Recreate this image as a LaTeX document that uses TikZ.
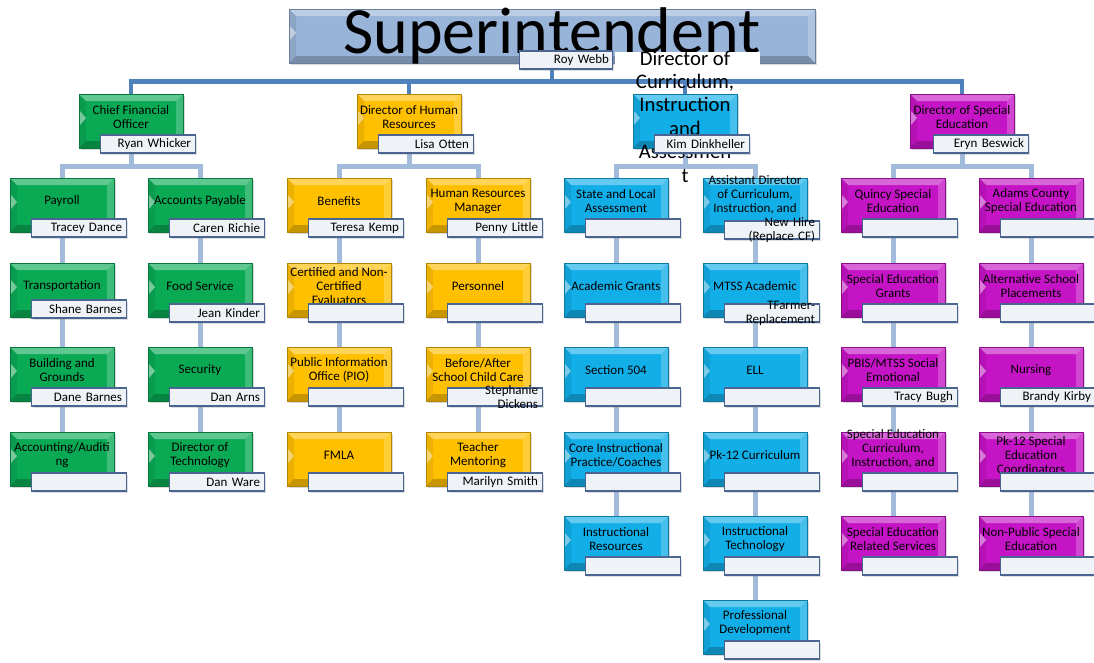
\documentclass[tikz,border=0pt]{standalone}
\usepackage{fontspec}
\setmainfont{Carlito}
\usetikzlibrary{shadows,backgrounds}

\definecolor{finGreen}{HTML}{0AAA55}
\definecolor{hrGold}{HTML}{FFC000}
\definecolor{curCyan}{HTML}{12AEE8}
\definecolor{spedPink}{HTML}{C514C5}
\definecolor{supBlue}{HTML}{98B4D8}
\definecolor{busBlue}{HTML}{4F81BD}
\definecolor{stemBlue}{HTML}{A3BBDB}
\definecolor{tagEdge}{HTML}{4A6591}
\definecolor{tagFill}{HTML}{EFF2F6}

\begin{document}
\begin{tikzpicture}[x=1pt,y=-1pt,
  bevel/.style={path picture={
    \fill[white,opacity=.35] (path picture bounding box.north west) -- (path picture bounding box.north east)
      -- ([shift={(-7pt,-7pt)}]path picture bounding box.north east) -- ([shift={(7pt,-7pt)}]path picture bounding box.north west) -- cycle;
    \fill[white,opacity=.22] (path picture bounding box.north east) -- ([shift={(-7pt,-7pt)}]path picture bounding box.north east)
      -- ([shift={(-7pt,7pt)}]path picture bounding box.south east) -- (path picture bounding box.south east) -- cycle;
    \fill[black,opacity=.22] (path picture bounding box.south west) -- (path picture bounding box.south east)
      -- ([shift={(-7pt,7pt)}]path picture bounding box.south east) -- ([shift={(7pt,7pt)}]path picture bounding box.south west) -- cycle;
    \fill[black,opacity=.08] (path picture bounding box.north west) -- ([shift={(7pt,-7pt)}]path picture bounding box.north west)
      -- ([shift={(7pt,7pt)}]path picture bounding box.south west) -- (path picture bounding box.south west) -- cycle;
    \fill[white,opacity=.45] ([shift={(1pt,10pt)}]path picture bounding box.west) -- ([shift={(7pt,3pt)}]path picture bounding box.west)
      -- ([shift={(1pt,-4pt)}]path picture bounding box.west) -- cycle;
  }},
  unit/.style 2 args={rectangle,draw=#1!70!black,line width=.6pt,fill=#1,
    minimum width=104pt,minimum height=54pt,inner sep=0pt,bevel,
    drop shadow={opacity=.3,shadow xshift=1.5pt,shadow yshift=-2pt},
    label={[unittext]center:{#2}}},
  unittext/.style={align=center,font=\fontsize{13}{14}\selectfont,inner sep=0pt,yshift=4pt},
  nametag/.style={rectangle,draw=tagEdge,line width=1.3pt,fill=tagFill,
    minimum width=95pt,minimum height=18pt,inner sep=0pt,
    drop shadow={opacity=.25,shadow xshift=1.5pt,shadow yshift=-1.5pt},
    label={[nametext]center:{#1}}},
  nametag/.default={},
  nametext/.style={align=right,text width=86pt,font=\fontsize{13}{14}\selectfont,inner sep=0pt},
  bus/.style={draw=busBlue,line width=4.5pt},
  stem/.style={draw=stemBlue,line width=5pt}]
\useasboundingbox (0,0) rectangle (1094,662);

% top
\node[unit={supBlue}{},minimum width=526pt,
  label={[font=\fontsize{66}{70}\selectfont,inner sep=0pt]center:Superintendent}] (sup) at (552,36) {};
\node[nametag={Roy Webb},minimum width=93pt] (sup-n) at (566,60) {};
\fill[white] (615,52) rectangle (760,77);

% second level
\node[unit={finGreen}{Chief Financial\\Officer}] (cfo) at (131,121) {};
\node[nametag={Ryan Whicker}] (cfo-n) at (148,144) {};
\node[unit={hrGold}{Director of Human\\Resources}] (hr) at (409,121) {};
\node[nametag={Lisa Otten}] (hr-n) at (426,144) {};
\node[unit={curCyan}{},
  label={[align=center,font=\fontsize{20.7}{23.4}\selectfont,inner sep=0pt,yshift=4.5pt]center:{Director of\\Curriculum,\\Instruction\\and\\Assessmen\\t}}] (cur) at (685,121) {};
\node[nametag={Kim Dinkheller}] (cur-n) at (702,144) {};
\node[unit={spedPink}{Director of Special\\Education}] (sped) at (962,121) {};
\node[nametag={Eryn Beswick}] (sped-n) at (981,144) {};

% finance
\node[unit={finGreen}{Payroll}] (pay) at (62,205) {};
\node[nametag={Tracey Dance}] (pay-n) at (79,228) {};
\node[unit={finGreen}{Transportation}] (trans) at (62,290) {};
\node[nametag={Shane Barnes}] (trans-n) at (79,309) {};
\node[unit={finGreen}{Building and\\Grounds}] (bldg) at (62,374) {};
\node[nametag={Dane Barnes}] (bldg-n) at (79,397) {};
\node[unit={finGreen}{Accounting/Auditi\\ng}] (acct) at (62,459) {};
\node[nametag] (acct-n) at (79,482) {};

\node[unit={finGreen}{Accounts Payable}] (ap) at (200,205) {};
\node[nametag={Caren Richie}] (ap-n) at (217,228) {};
\node[unit={finGreen}{Food Service}] (food) at (200,290) {};
\node[nametag={Jean Kinder}] (food-n) at (217,313) {};
\node[unit={finGreen}{Security}] (sec) at (200,374) {};
\node[nametag={Dan Arns}] (sec-n) at (217,397) {};
\node[unit={finGreen}{Director of\\Technology}] (tech) at (200,459) {};
\node[nametag={Dan Ware}] (tech-n) at (217,482) {};

% human resources
\node[unit={hrGold}{Benefits}] (ben) at (339,205) {};
\node[nametag={Teresa Kemp}] (ben-n) at (356,228) {};
\node[unit={hrGold}{Certified and Non-\\Certified\\Evaluators}] (cert) at (339,290) {};
\node[nametag] (cert-n) at (356,313) {};
\node[unit={hrGold}{Public Information\\Office (PIO)}] (pio) at (339,374) {};
\node[nametag] (pio-n) at (356,397) {};
\node[unit={hrGold}{FMLA}] (fmla) at (339,459) {};
\node[nametag] (fmla-n) at (356,482) {};

\node[unit={hrGold}{Human Resources\\Manager}] (hrm) at (478,205) {};
\node[nametag={Penny Little}] (hrm-n) at (495,228) {};
\node[unit={hrGold}{Personnel}] (pers) at (478,290) {};
\node[nametag] (pers-n) at (495,313) {};
\node[unit={hrGold}{Before/After\\School Child Care}] (care) at (478,374) {};
\node[nametag={Stephanie\\Dickens}] (care-n) at (495,397) {};
\node[unit={hrGold}{Teacher\\Mentoring}] (ment) at (478,459) {};
\node[nametag={Marilyn Smith}] (ment-n) at (495,482) {};

% curriculum
\node[unit={curCyan}{State and Local\\Assessment}] (sla) at (616,205) {};
\node[nametag] (sla-n) at (633,228) {};
\node[unit={curCyan}{Academic Grants}] (grants) at (616,290) {};
\node[nametag] (grants-n) at (633,313) {};
\node[unit={curCyan}{Section 504}] (sec504) at (616,374) {};
\node[nametag] (sec504-n) at (633,397) {};
\node[unit={curCyan}{Core Instructional\\Practice/Coaches}] (core) at (616,459) {};
\node[nametag] (core-n) at (633,482) {};
\node[unit={curCyan}{Instructional\\Resources}] (ires) at (616,543) {};
\node[nametag] (ires-n) at (633,566) {};

\node[unit={curCyan}{Assistant Director\\of Curriculum,\\Instruction, and\\~}] (asst) at (755,205) {};
\node[nametag={New Hire\\(Replace CF)}] (asst-n) at (772,230) {};
\node[unit={curCyan}{MTSS Academic}] (mtss) at (755,290) {};
\node[nametag={TFarmer-\\Replacement}] (mtss-n) at (772,313) {};
\node[unit={curCyan}{ELL}] (ell) at (755,374) {};
\node[nametag] (ell-n) at (772,397) {};
\node[unit={curCyan}{Pk-12 Curriculum}] (pk12) at (755,459) {};
\node[nametag] (pk12-n) at (772,482) {};
\node[unit={curCyan}{Instructional\\Technology}] (itech) at (755,543) {};
\node[nametag] (itech-n) at (772,566) {};
\node[unit={curCyan}{Professional\\Development}] (pdev) at (755,627) {};
\node[nametag] (pdev-n) at (772,650) {};

% special education
\node[unit={spedPink}{Quincy Special\\Education}] (quincy) at (893,205) {};
\node[nametag] (quincy-n) at (910,228) {};
\node[unit={spedPink}{Special Education\\Grants}] (segr) at (893,290) {};
\node[nametag] (segr-n) at (910,313) {};
\node[unit={spedPink}{PBIS/MTSS Social\\Emotional}] (pbis) at (893,374) {};
\node[nametag={Tracy Bugh}] (pbis-n) at (910,397) {};
\node[unit={spedPink}{Special Education\\Curriculum,\\Instruction, and\\~}] (secur) at (893,459) {};
\node[nametag] (secur-n) at (910,482) {};
\node[unit={spedPink}{Special Education\\Related Services}] (serel) at (893,543) {};
\node[nametag] (serel-n) at (910,566) {};

\node[unit={spedPink}{Adams County\\Special Education}] (adams) at (1031,205) {};
\node[nametag] (adams-n) at (1048,228) {};
\node[unit={spedPink}{Alternative School\\Placements}] (alt) at (1031,290) {};
\node[nametag] (alt-n) at (1048,313) {};
\node[unit={spedPink}{Nursing}] (nurse) at (1031,374) {};
\node[nametag={Brandy Kirby}] (nurse-n) at (1048,397) {};
\node[unit={spedPink}{Pk-12 Special\\Education\\Coordinators}] (pkse) at (1031,459) {};
\node[nametag] (pkse-n) at (1048,482) {};
\node[unit={spedPink}{Non-Public Special\\Education}] (nonpub) at (1031,543) {};
\node[nametag] (nonpub-n) at (1048,566) {};

% connectors
\begin{scope}[on background layer]
\draw[bus] (sup.south) -- ++(0,18) -| (cfo.north);
\draw[bus] (sup.south) -- ++(0,18) -| (hr.north);
\draw[bus] (sup.south) -- ++(0,18) -| (cur.north);
\draw[bus] (sup.south) -- ++(0,18) -| (sped.north);
\draw[stem] (cfo.south) -- ++(0,18) -| (pay.north);
\draw[stem] (cfo.south) -- ++(0,18) -| (ap.north);
\draw[stem] (hr.south) -- ++(0,18) -| (ben.north);
\draw[stem] (hr.south) -- ++(0,18) -| (hrm.north);
\draw[stem] (cur.south) -- ++(0,18) -| (sla.north);
\draw[stem] (cur.south) -- ++(0,18) -| (asst.north);
\draw[stem] (sped.south) -- ++(0,18) -| (quincy.north);
\draw[stem] (sped.south) -- ++(0,18) -| (adams.north);
\draw[stem] (pay) -- (trans) -- (bldg) -- (acct);
\draw[stem] (ap) -- (food) -- (sec) -- (tech);
\draw[stem] (ben) -- (cert) -- (pio) -- (fmla);
\draw[stem] (hrm) -- (pers) -- (care) -- (ment);
\draw[stem] (sla) -- (grants) -- (sec504) -- (core) -- (ires);
\draw[stem] (asst) -- (mtss) -- (ell) -- (pk12) -- (itech) -- (pdev);
\draw[stem] (quincy) -- (segr) -- (pbis) -- (secur) -- (serel);
\draw[stem] (adams) -- (alt) -- (nurse) -- (pkse) -- (nonpub);
\end{scope}
\end{tikzpicture}
\end{document}
